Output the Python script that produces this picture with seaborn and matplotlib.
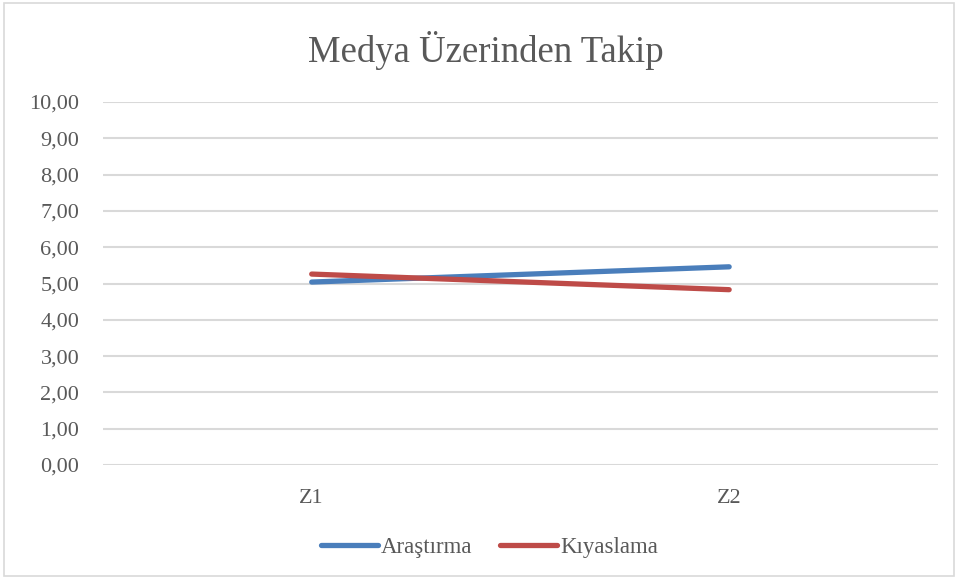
import pandas as pd
import matplotlib
matplotlib.use("Agg")
import matplotlib.pyplot as plt
import seaborn as sns
from matplotlib.ticker import FuncFormatter

# data
periods = ["Z1", "Z2"]
arastirma = [5.04, 5.46]
kiyaslama = [5.26, 4.83]
series_names = ["Araştırma", "Kıyaslama"]

df = pd.DataFrame({
    "period": periods * 2,
    "value": arastirma + kiyaslama,
    "series": [series_names[0]] * 2 + [series_names[1]] * 2,
})

sns.set_style("white")
plt.rcParams["font.family"] = ["Liberation Serif", "DejaVu Serif"]

fig = plt.figure(figsize=(9.58, 5.78), dpi=100)
ax = fig.add_axes([0.1075, 0.1955, 0.8715, 0.628])

palette = {"Araştırma": "#4a7ebb", "Kıyaslama": "#be4b48"}
sns.lineplot(data=df, x="period", y="value", hue="series", palette=palette,
             linewidth=3.8, solid_capstyle="round", ax=ax, legend=False)

ax.set_xlim(-0.5, 1.5)
ax.set_ylim(0, 10)
ax.set_yticks(range(0, 11))
ax.yaxis.set_major_formatter(FuncFormatter(lambda v, p: f"{v:.2f}".replace(".", ",")))
ax.grid(axis="y", color="#d9d9d9", linewidth=1.5)
ax.grid(axis="x", visible=False)
for s in ax.spines.values():
    s.set_visible(False)
ax.tick_params(axis="both", labelsize=16, colors="#595959", length=0)
ax.tick_params(axis="x", pad=17)
ax.tick_params(axis="y", pad=17)
ax.set_xlabel("")
ax.set_ylabel("")

fig.text(0.507, 0.912, "Medya Üzerinden Takip", ha="center", va="center",
         fontsize=26.5, color="#595959")

handles = [plt.Line2D([], [], color=palette[n], linewidth=3.8, solid_capstyle="round")
           for n in series_names]
fig.legend(handles, series_names, loc="center", bbox_to_anchor=(0.511, 0.053),
           ncol=2, frameon=False, fontsize=16.5, handlelength=2.5, handletextpad=0.12,
           columnspacing=1.2, labelcolor="#595959")

fig.patches.append(plt.Rectangle((0.004, 0.004), 0.992, 0.99, transform=fig.transFigure,
                                 fill=False, edgecolor="#d9d9d9", linewidth=1.2))

fig.savefig("out.png", dpi=100, facecolor="white")
